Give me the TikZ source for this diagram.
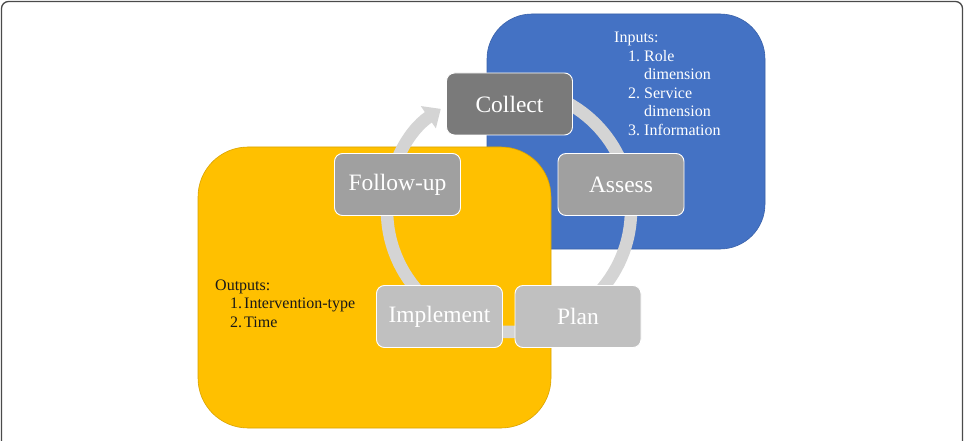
\documentclass[tikz,border=0pt]{standalone}
\usepackage{fontspec}
\setmainfont{Liberation Serif}
\usetikzlibrary{arrows.meta}
\definecolor{bluebox}{HTML}{4472C4}
\definecolor{blueedge}{HTML}{3A62AA}
\definecolor{yellowbox}{HTML}{FFC000}
\definecolor{yellowedge}{HTML}{D9A300}
\definecolor{ringcol}{HTML}{D4D4D4}
\definecolor{dark}{HTML}{7A7A7A}
\definecolor{mid}{HTML}{A0A0A0}
\definecolor{light}{HTML}{C0C0C0}
\definecolor{frame}{HTML}{4A4A4A}
\tikzset{
  stepbox/.style={draw=white, line width=0.9pt, rounded corners=8pt,
    minimum width=126pt, minimum height=62pt, inner sep=0pt,
    text=white, font=\fontsize{23.5}{28}\selectfont},
  listtxt/.style={anchor=base west, inner sep=0pt, font=\fontsize{16}{19}\selectfont},
  ringline/.style={draw=ringcol, line width=12.5pt,
    -{Triangle[width=26pt,length=15pt]}}
}
\begin{document}
\begin{tikzpicture}[x=1pt,y=1pt]
\useasboundingbox (0,0) rectangle (967,440);
\fill[white] (0,0) rectangle (967,440);
% outer frame
\draw[frame, line width=1.3pt, rounded corners=7pt] (1.5,-10) rectangle (962.5,438.5);
% background boxes
\draw[fill=bluebox, draw=blueedge, line width=0.6pt, rounded corners=45pt] (487,191) rectangle (765,426);
\draw[fill=yellowbox, draw=yellowedge, line width=0.6pt, rounded corners=50pt] (198,12) rectangle (551,293);
% ring
\coordinate (rc) at (509,230);
\draw[ringline] (rc) ++(90:122) arc[start angle=90, end angle=-236, radius=122];
% steps
\node[stepbox, fill=dark]  (collect)   at (509.5,336)   {Collect};
\node[stepbox, fill=mid]   (assess)    at (621,255.5)   {Assess};
\node[stepbox, fill=light] (plan)      at (578,123.5)   {Plan};
\node[stepbox, fill=light] (implement) at (439.5,123.5) {Implement};
\node[stepbox, fill=mid]   (followup)  at (397.5,255.5) {Follow-up};
% inputs
\node[listtxt, text=white] (in0) at (614,397) {Inputs:};
\node[listtxt, text=white] (in1) at (628,378) {\makebox[16pt][l]{1.}Role};
\node[listtxt, text=white] (in2) at (644,360) {dimension};
\node[listtxt, text=white] (in3) at (628,341) {\makebox[16pt][l]{2.}Service};
\node[listtxt, text=white] (in4) at (644,323) {dimension};
\node[listtxt, text=white] (in5) at (628,304) {\makebox[16pt][l]{3.}Information};
% outputs
\node[listtxt, text=black!90] (out0) at (215,150) {Outputs:};
\node[listtxt, text=black!90] (out1) at (230,132) {\makebox[14pt][l]{1.}Intervention-type};
\node[listtxt, text=black!90] (out2) at (230,113) {\makebox[14pt][l]{2.}Time};
\end{tikzpicture}
\end{document}
